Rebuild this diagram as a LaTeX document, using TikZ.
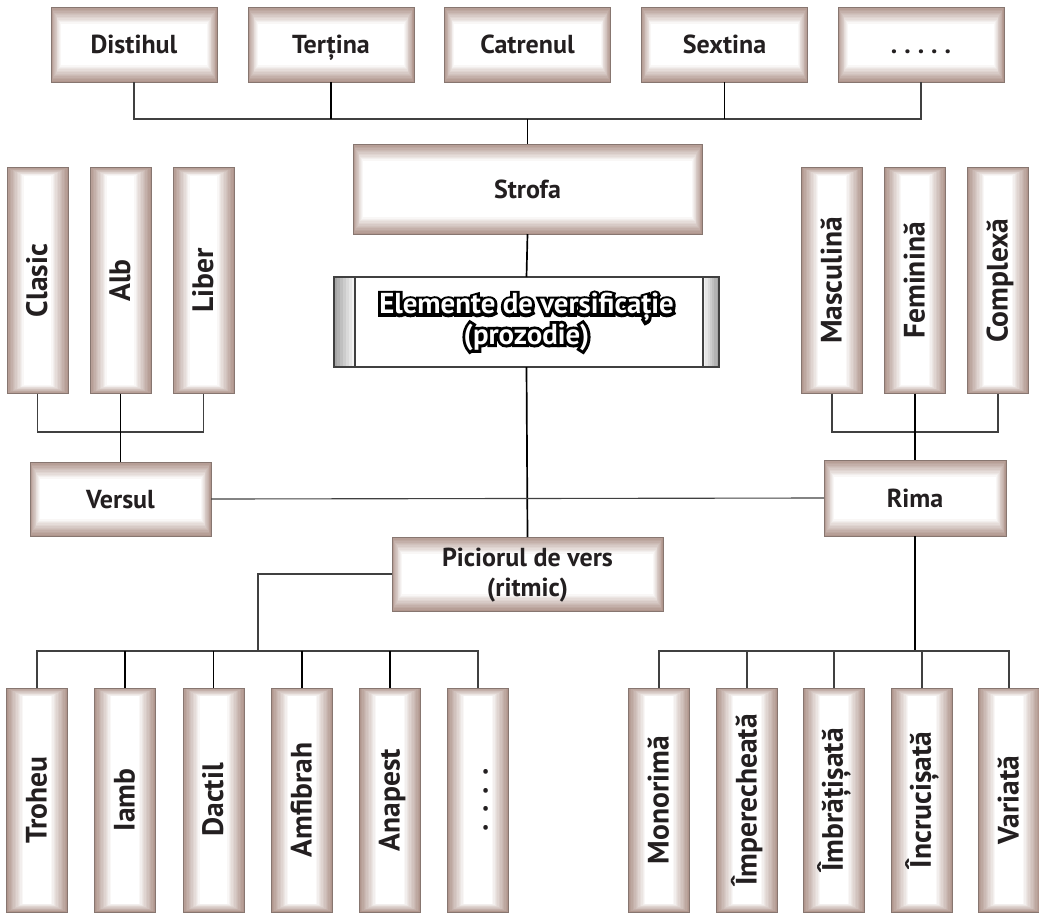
\documentclass[tikz,border=0pt]{standalone}
\usepackage{fontspec}
\setmainfont{PT Sans}
\newfontfamily\fatfont{PT Sans Bold}[FakeBold=20]
\usepackage{tikz}
\usetikzlibrary{calc}
\pgfdeclarelayer{background}
\pgfsetlayers{background,main}
\definecolor{boxedge}{RGB}{176,150,141}
\definecolor{boxline}{RGB}{135,118,112}
\definecolor{txt}{RGB}{35,31,32}
\newcommand{\up}[1]{\rotatebox{90}{\vphantom{Îg}#1}}
\newcommand{\outl}[1]{\rlap{\color{black}\fatfont #1}#1}
% fundal in trepte: dreptunghiuri imbricate, de la margine spre alb
\newcommand{\hshade}[1]{
    \foreach \i in {0,...,12} {
        \pgfmathtruncatemacro\tint{100 - 100*\i/12}
        \fill [boxedge!\tint!white] ($(#1.north west) + (\i*0.8, -\i*1.4)$) rectangle ($(#1.south east) + (-\i*0.8, \i*1.4)$);
    }
}
\newcommand{\vshade}[1]{
    \foreach \i in {0,...,12} {
        \pgfmathtruncatemacro\tint{100 - 100*\i/12}
        \fill [boxedge!\tint!white] ($(#1.north west) + (\i*1.4, -\i*0.7)$) rectangle ($(#1.south east) + (-\i*1.4, \i*0.7)$);
    }
}
\tikzset{
    hbox/.style = {
        draw           = boxline,
        line width     = 0.6pt,
        align          = center,
    },
    vbox/.style = {
        draw           = boxline,
        line width     = 0.6pt,
        minimum width  = 1.525cm,
        font           = \fontsize{21}{23}\selectfont\bfseries,
    },
    oneline/.style = {text height = 13pt, text depth = 0pt},
    link/.style  = {draw = black!75, line width = 0.8pt},
    trunk/.style = {draw = black, line width = 1.2pt},
}

\begin{document}
\begin{tikzpicture}[x=0.025cm, y=0.025cm, every node/.style = {text = txt, inner sep = 0pt, outer sep = 0pt, font = \fontsize{18.5}{21}\selectfont\bfseries}]
        \useasboundingbox (0, 0) rectangle (1039, -915);

        % tipuri de strofa
        \node at (134, -44.5) (dist) [hbox, oneline, minimum width=4.15cm, minimum height=1.875cm] {Distihul};
        \node at (331, -44.5) (terz) [hbox, oneline, minimum width=4.15cm, minimum height=1.875cm] {Terțina};
        \node at (527.5, -44.5) (catr) [hbox, oneline, minimum width=4.15cm, minimum height=1.875cm] {Catrenul};
        \node at (724.5, -44.5) (sext) [hbox, oneline, minimum width=4.15cm, minimum height=1.875cm] {Sextina};
        \node at (921, -44.5) (dots) [hbox, oneline, minimum width=4.15cm, minimum height=1.875cm] {.\hspace{5pt}.\hspace{5pt}.\hspace{5pt}.\hspace{5pt}.};

        \node at (527.5, -189) (strofa) [hbox, oneline, minimum width=8.725cm, minimum height=2.25cm] {Strofa};

        \node at (526.5, -322) (elem) [draw=black!75, line width=1pt, minimum width=9.625cm, minimum height=2.25cm, align=center, text=white, font=\fontsize{20.5}{21.5}\selectfont\bfseries] {\outl{Elemente de versificație}\\\outl{(prozodie)}};

        % versul
        \node at (37.5, -280.5) (clasic) [vbox, minimum height=5.65cm] {\up{Clasic}};
        \node at (120.5, -280.5) (alb) [vbox, minimum height=5.65cm] {\up{Alb}};
        \node at (203.5, -280.5) (liber) [vbox, minimum height=5.65cm] {\up{Liber}};
        \node at (120.5, -499) (versul) [hbox, oneline, minimum width=4.525cm, minimum height=1.85cm] {Versul};

        % rima
        \node at (832, -280.5) (masc) [vbox, minimum height=5.65cm] {\up{Masculină}};
        \node at (915, -280.5) (femin) [vbox, minimum height=5.65cm] {\up{Feminină}};
        \node at (998, -280.5) (compl) [vbox, minimum height=5.65cm] {\up{Complexă}};
        \node at (915, -498) (rima) [hbox, oneline, minimum width=4.55cm, minimum height=1.9cm] {Rima};

        % piciorul de vers
        \node at (527.5, -574) (picior) [hbox, minimum width=6.775cm, minimum height=1.85cm] {\rule{0pt}{15pt}Piciorul de vers\\(ritmic)};
        \node at (37, -800) (troheu) [vbox, minimum height=5.6cm] {\up{Troheu}};
        \node at (125, -800) (iamb) [vbox, minimum height=5.6cm] {\up{Iamb}};
        \node at (213.5, -800) (dactil) [vbox, minimum height=5.6cm] {\up{Dactil}};
        \node at (302, -800) (amfi) [vbox, minimum height=5.6cm] {\up{Amfibrah}};
        \node at (390, -800) (anap) [vbox, minimum height=5.6cm] {\up{Anapest}};
        \node at (478, -800) (vdots) [vbox, minimum height=5.6cm] {\up{.\hspace{8pt}.\hspace{8pt}.\hspace{8pt}.}};

        % dispunerea rimei
        \node at (659, -800) (monor) [vbox, minimum height=5.6cm] {\up{Monorimă}};
        \node at (747, -800) (imper) [vbox, minimum height=5.6cm] {\up{Împerecheată}};
        \node at (834, -800) (imbr) [vbox, minimum height=5.6cm] {\up{Îmbrățișată}};
        \node at (922, -800) (incr) [vbox, minimum height=5.6cm] {\up{Încrucișată}};
        \node at (1009, -800) (variata) [vbox, minimum height=5.6cm] {\up{Variată}};

        \begin{pgfonlayer}{background}
            \foreach \n in {dist, terz, catr, sext, dots, strofa, versul, rima, picior} {\hshade{\n}}
            \foreach \n in {clasic, alb, liber, masc, femin, compl, troheu, iamb, dactil, amfi, anap, vdots, monor, imper, imbr, incr, variata} {\vshade{\n}}
            \fill [white] (elem.north west) rectangle (elem.south east);
            \foreach \i in {0,...,6} {
                \pgfmathtruncatemacro\tint{35 - 5*\i}
                \fill [black!\tint] ($(elem.north west) + (\i*3, 0)$) rectangle ($(elem.south west) + (\i*3 + 3, 0)$);
                \fill [black!\tint] ($(elem.north east) + (-\i*2.3, 0)$) rectangle ($(elem.south east) + (-\i*2.3 - 2.3, 0)$);
            }
        \end{pgfonlayer}
        \draw [draw=black!75, line width=1pt] (elem.north west) rectangle ($(elem.south west) + (21, 0)$);
        \draw [draw=black!75, line width=1pt] ($(elem.north east) + (-16, 0)$) rectangle (elem.south east);

        % legaturi
        \coordinate (topbus) at (527.5, -119);
        \draw [link] (dist.south) |- (topbus) -| (dots.south);
        \draw [trunk] (terz.south) -- (terz.south |- topbus);
        \draw [trunk] (sext.south) -- (sext.south |- topbus);
        \draw [trunk] (topbus) -- (strofa.north);
        \draw [trunk] (strofa.south) -- (elem.north);
        \draw [trunk] (elem.south) -- (picior.north);

        \coordinate (leftbus) at (120.5, -432);
        \draw [link] (clasic.south) |- (leftbus) -| (liber.south);
        \draw [trunk] (alb.south) -- (versul.north);

        \coordinate (rightbus) at (915, -432);
        \draw [link] (masc.south) |- (rightbus) -| (compl.south);
        \draw [trunk] (femin.south) -- (rima.north);

        \draw [link] (versul.east) -- (rima.west);

        \coordinate (footbus) at (258, -651);
        \draw [link] (picior.west) -| (footbus);
        \draw [link] (troheu.north) |- (footbus) -| (vdots.north);
        \draw [trunk] (iamb.north) -- (iamb.north |- footbus);
        \draw [trunk] (dactil.north) -- (dactil.north |- footbus);
        \draw [trunk] (amfi.north) -- (amfi.north |- footbus);
        \draw [trunk] (anap.north) -- (anap.north |- footbus);

        \coordinate (rimebus) at (915, -651);
        \draw [trunk] (rima.south) -- (rimebus);
        \draw [link] (monor.north) |- (rimebus) -| (variata.north);
        \draw [link] (imper.north) -- (imper.north |- rimebus);
        \draw [link] (imbr.north) -- (imbr.north |- rimebus);
        \draw [link] (incr.north) -- (incr.north |- rimebus);

    \end{tikzpicture}
\end{document}
